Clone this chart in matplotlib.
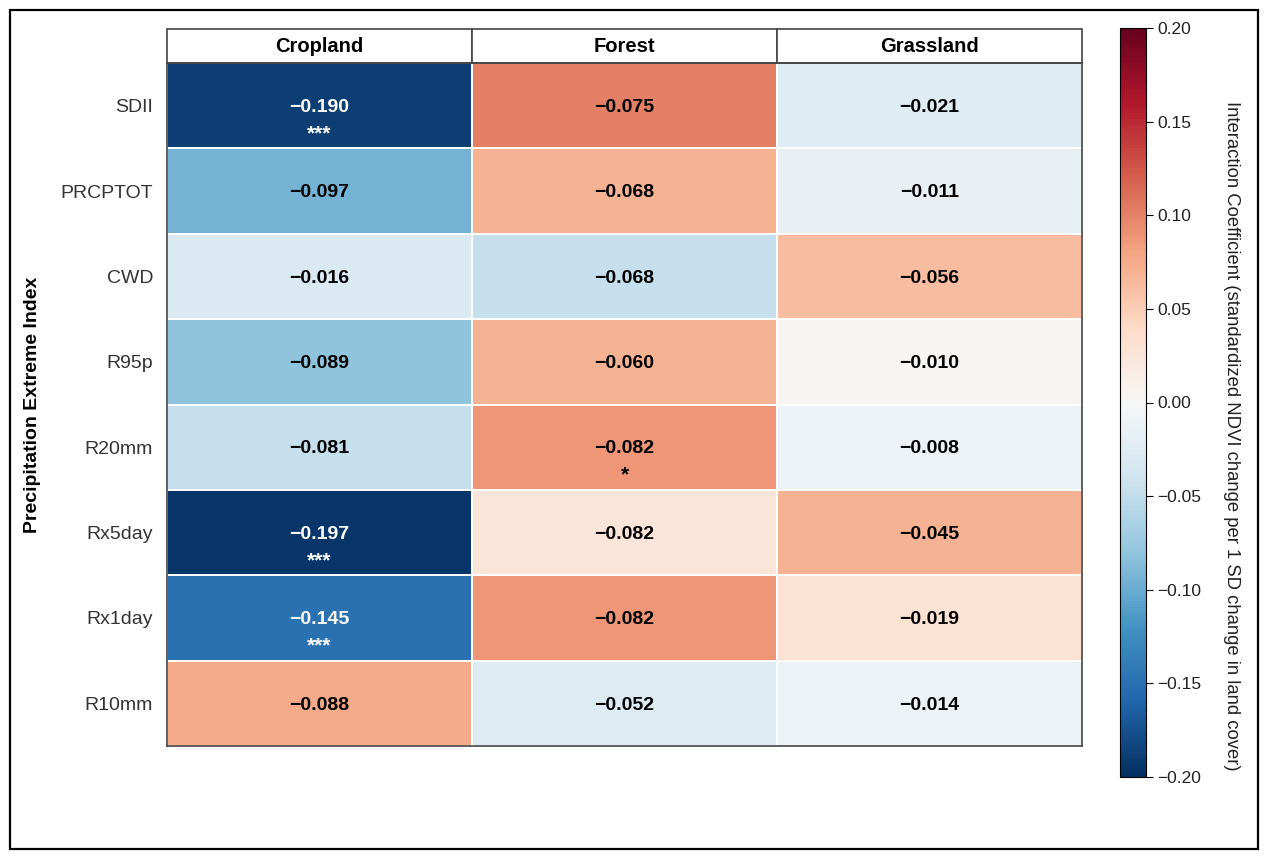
import numpy as np
import matplotlib
matplotlib.use('Agg')
from matplotlib import pyplot as plt
from matplotlib.patches import Rectangle

# ---------------------------- data ----------------------------
indices = ['SDII', 'PRCPTOT', 'CWD', 'R95p', 'R20mm', 'Rx5day', 'Rx1day', 'R10mm']
land_covers = ['Cropland', 'Forest', 'Grassland']

# printed coefficients (rows = indices, cols = land covers)
cropland_coef = [-0.190, -0.097, -0.016, -0.089, -0.081, -0.197, -0.145, -0.088]
forest_coef = [-0.075, -0.068, -0.068, -0.060, -0.082, -0.082, -0.082, -0.052]
grassland_coef = [-0.021, -0.011, -0.056, -0.010, -0.008, -0.045, -0.019, -0.014]

# cell shading
cropland_shade = [-0.190, -0.095, -0.030, -0.080, -0.048, -0.195, -0.150, 0.075]
forest_shade = [0.100, 0.070, -0.048, 0.070, 0.088, 0.025, 0.088, -0.028]
grassland_shade = [-0.025, -0.015, 0.062, 0.004, -0.012, 0.070, 0.030, -0.012]

# significance stars
cropland_sig = ['***', '', '', '', '', '***', '***', '']
forest_sig = ['', '', '', '', '*', '', '', '']
grassland_sig = ['', '', '', '', '', '', '', '']

cbar_ticks = [-0.20, -0.15, -0.10, -0.05, 0.00, 0.05, 0.10, 0.15, 0.20]
# ---------------------------------------------------------------

plt.rcParams['font.family'] = ['Liberation Sans', 'DejaVu Sans']

coef = np.array([cropland_coef, forest_coef, grassland_coef]).T
shade = np.array([cropland_shade, forest_shade, grassland_shade]).T
sig = np.array([cropland_sig, forest_sig, grassland_sig]).T
nrows, ncols = coef.shape

W, H = 1265, 859
fig = plt.figure(figsize=(W / 100, H / 100), dpi=100)
ax = fig.add_axes([167 / W, 1 - 746 / H, (1082 - 167) / W, (746 - 63) / H])

cmap = plt.get_cmap('RdBu_r')
mesh = ax.pcolormesh(shade, cmap=cmap, vmin=-0.2, vmax=0.2,
                     edgecolors='white', linewidth=1.3)
ax.set_xlim(0, ncols)
ax.set_ylim(nrows, 0)

for i in range(nrows):
    for j in range(ncols):
        txtcolor = 'white' if abs(shade[i, j]) > 0.13 else 'black'
        ax.text(j + 0.5, i + 0.52, f'{coef[i, j]:.3f}'.replace('-', '\u2212'),
                ha='center', va='center', fontsize=14, fontweight='bold',
                color=txtcolor)
        if sig[i, j]:
            ax.text(j + 0.5, i + 0.83, sig[i, j], ha='center', va='center',
                    fontsize=15, fontweight='bold', color=txtcolor)

ax.set_xticks([])
ax.set_yticks(np.arange(nrows) + 0.5)
ax.set_yticklabels(indices, fontsize=14, color='#333333')
ax.tick_params(axis='y', length=0, pad=10)
for s in ax.spines.values():
    s.set_color('#444444')
    s.set_linewidth(1.2)
ax.set_ylabel('Precipitation Extreme Index', fontsize=14, fontweight='bold',
              labelpad=14)

# header boxes
hh = 34 / (746 - 63)
for j, name in enumerate(land_covers):
    ax.add_patch(Rectangle((j / ncols, 1), 1 / ncols, hh, transform=ax.transAxes,
                           facecolor='white', edgecolor='#444444', lw=1.2,
                           clip_on=False))
    ax.text((j + 0.5) / ncols, 1 + hh / 2, name, transform=ax.transAxes,
            ha='center', va='center', fontsize=14.5, fontweight='bold')

# colour bar
cax = fig.add_axes([1120 / W, 1 - 777 / H, 26 / W, (777 - 28) / H])
cb = fig.colorbar(mesh, cax=cax, ticks=cbar_ticks)
cb.ax.set_yticklabels([f'{t:.2f}'.replace('-', '\u2212') for t in cbar_ticks],
                      fontsize=12.5, color='#222222')
cb.ax.tick_params(length=5, width=0.8, pad=3)
cb.outline.set_linewidth(0.8)
cb.set_label('Interaction Coefficient (standardized NDVI change per 1 SD change in land cover)',
             rotation=270, fontsize=13.3, color='#222222')
cb.ax.yaxis.set_label_coords(4.6, 0.455)

# outer frame
fig.add_artist(Rectangle((10 / W, 1 - 849 / H), 1248 / W, 839 / H,
                         transform=fig.transFigure, fill=False,
                         edgecolor='black', lw=1.6))

fig.savefig('out.png', dpi=100)
